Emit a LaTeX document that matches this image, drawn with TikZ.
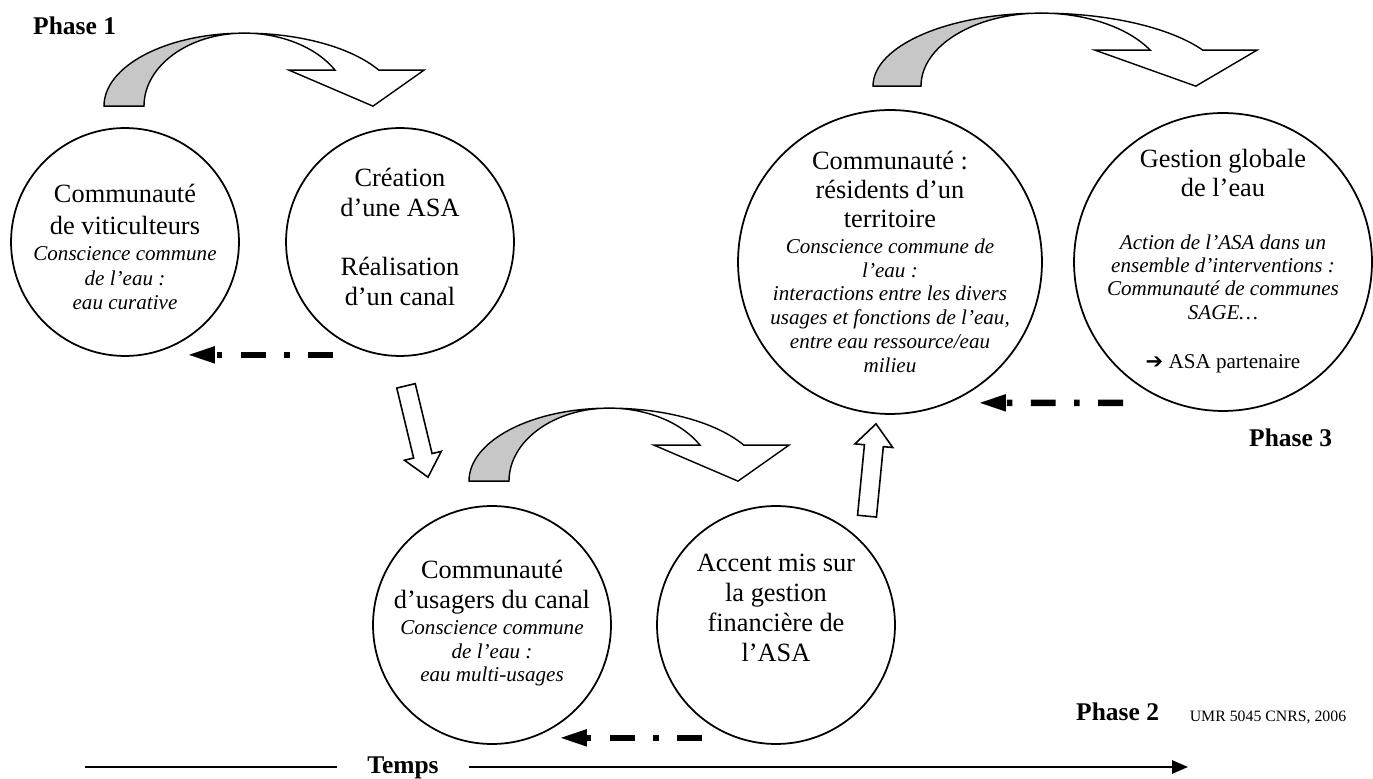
\documentclass[tikz,border=0pt]{standalone}
\usepackage{fontspec}
\setmainfont{Liberation Serif}
\newfontfamily\arrowfont{DejaVu Sans}
\usetikzlibrary{calc,arrows.meta}
\newcommand{\ital}[1]{{\fontsize{12}{14}\selectfont\itshape #1}}
\newcommand{\hollowarrow}[2]{%
  \coordinate (#1-#2) at ($(#2)!12.5pt!(#1)$);
  \draw[hollow] ($(#1)!5.4pt!90:(#2)$) -- ($(#1-#2)!5.4pt!90:(#2)$) -- ($(#1-#2)!10.8pt!90:(#2)$) -- (#2)
    -- ($(#1-#2)!10.8pt!-90:(#2)$) -- ($(#1-#2)!5.4pt!-90:(#2)$) -- ($(#1)!5.4pt!-90:(#2)$) -- cycle;}

\begin{document}
\begin{tikzpicture}[x=0.02cm, y=0.02cm,
  bubble/.style={circle, draw, line width=1pt, inner sep=0pt},
  words/.style={align=center, font=\fontsize{15}{18}\selectfont},
  phase/.style={font=\fontsize{14.5}{17}\selectfont\bfseries},
  ribbon/.style={draw, line width=0.8pt},
  backflow/.style={line width=3.8pt, dash pattern=on 14.2pt off 10.5pt on 3.1pt off 10.5pt,
    -{Triangle[length=14.7pt, width=10pt, line width=0pt]}},
  hollow/.style={draw, fill=white, line width=0.9pt, line join=miter},
  timeline/.style={line width=1.1pt},
  bend/.pic={
    \draw[ribbon, fill=black!22] (0,0) arc[start angle=180, end angle=90, x radius=140, y radius=73]
      arc[start angle=90, end angle=180, x radius=100, y radius=73] -- cycle;
    \draw[ribbon, fill=white] (140,73) arc[start angle=90, end angle=29.5, x radius=155, y radius=73]
      -- (320,36) -- (269,0) -- (185,36) -- (231,36)
      arc[start angle=29.5, end angle=90, x radius=105, y radius=73] -- cycle;
  }]
\useasboundingbox (0,0) rectangle (1373,778);

% phase 1
\node[bubble, minimum size=4.56cm] (c1) at (125,536) {};
\node[bubble, minimum size=4.56cm] (c2) at (400,536) {};
\node[words] (l1) at ($(c1)+(0,-5)$) {Communauté\\ de viticulteurs\\[-3pt] \ital{Conscience commune}\\[-4pt]
  \ital{de l’eau :}\\[-4.5pt] \ital{eau curative}};
\node[words] (l2) at ($(c2)+(0,5)$) {Création\\[-1pt] d’une ASA\\[16pt] Réalisation\\[-1pt] d’un canal};
\node[phase, anchor=base west] (p1) at (27,743) {Phase 1};

% phase 2
\node[bubble, minimum size=4.76cm] (c3) at (492,153) {};
\node[bubble, minimum size=4.76cm] (c4) at (776,153) {};
\node[words] (l3) at ($(c3)+(0,2)$) {Communauté\\[-1pt] d’usagers du canal\\[-3.3pt] \ital{Conscience commune}\\[-4.4pt]
  \ital{de l’eau :}\\[-5pt] \ital{eau multi-usages}};
\node[words] (l4) at ($(c4)+(0,17)$) {Accent mis sur\\[-1pt] la gestion\\[-1pt] financière de\\[-1pt] l’ASA};
\node[phase, anchor=base west] (p2) at (1070,58) {Phase 2};

% phase 3
\node[bubble, minimum size=6.08cm] (c5) at (890,516) {};
\node[bubble, minimum size=5.96cm] (c6) at (1223,516) {};
\node[words] (l5) at (c5) {Communauté :\\[-1.5pt] résidents d’un\\[-1.5pt] territoire\\[-3.3pt]
  \ital{Conscience commune de}\\[-4.4pt] \ital{l’eau :}\\[-4.4pt] \ital{interactions entre les divers}\\[-4.4pt]
  \ital{usages et fonctions de l’eau,}\\[-4.4pt] \ital{entre eau ressource/eau}\\[-4.4pt] \ital{milieu}};
\node[words] (l6) at ($(c6)+(0,1)$) {Gestion globale\\[-1.5pt] de l’eau\\[12pt]
  \ital{Action de l’ASA dans un}\\[-4.7pt] \ital{ensemble d’interventions :}\\[-4.7pt]
  \ital{Communauté de communes}\\[-4.7pt] \ital{SAGE…}\\[10pt]
  {\fontsize{12}{14}\selectfont{\arrowfont ➔} ASA partenaire}};
\node[phase, anchor=base west] (p3) at (1243,331) {Phase 3};

% passages
\pic at ($(c1.north)+(-21,21)$) {bend};
\pic at ($(c3.north)+(-23,24)$) {bend};
\pic[xscale=1.2] at ($(c5.north)+(-17,23)$) {bend};
\draw[backflow] ($(c2.south)+(-67,2)$) -- ($(c1.south)+(64,2)$);
\draw[backflow] ($(c4.south)+(-74,7)$) -- ($(c3.south)+(69,7)$);
\draw[backflow] ($(c6.south)+(-100,9)$) -- ($(c5.south)+(90,12)$);
\coordinate (down0) at ($(c2.south)+(6,-29)$);
\coordinate (down1) at ($(c3.north)+(-64,28)$);
\hollowarrow{down0}{down1}
\coordinate (up0) at ($(c4.north)+(91,-11)$);
\coordinate (up1) at ($(c5.south)+(-14,-9)$);
\hollowarrow{up0}{up1}

% time axis
\node[phase, anchor=base, inner xsep=17pt] (temps) at (403,5) {Temps};
\coordinate (tstart) at (85,11);
\coordinate (tend) at (1188,11);
\draw[timeline] (tstart) -- (tstart -| temps.west);
\draw[timeline, -{Triangle[length=9pt, width=7.5pt]}] (temps.east |- tend) -- (tend);
\node[font=\fontsize{9}{11}\selectfont, anchor=base] (credit) at (1268,56) {UMR 5045 CNRS, 2006};
\end{tikzpicture}
\end{document}
